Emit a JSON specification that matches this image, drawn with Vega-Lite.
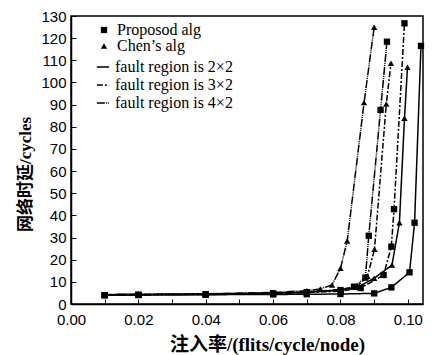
{
  "$schema": "https://vega.github.io/schema/vega-lite/v6.json",
  "width": 352,
  "height": 288,
  "autosize": "none",
  "padding": {"left": 71, "top": 16, "right": 10, "bottom": 51},
  "background": "white",
  "config": {
    "view": {"stroke": "black", "strokeWidth": 1.5},
    "axis": {
      "grid": false,
      "domainColor": "black",
      "domainWidth": 1.5,
      "tickColor": "black",
      "tickWidth": 1,
      "tickSize": -5,
      "labelFont": "Liberation Sans",
      "labelFontSize": 15,
      "labelColor": "black",
      "labelFlush": false,
      "titleColor": "black",
      "titleFont": "Liberation Serif, Noto Sans CJK SC",
      "titleFontWeight": "bold"
    }
  },
  "data": {
    "values": [
      {"x": 0.01, "y": 4.3, "alg": "Chen’s alg", "fault": "fault region is 4×2", "series": "A"},
      {"x": 0.02, "y": 4.4, "alg": "Chen’s alg", "fault": "fault region is 4×2", "series": "A"},
      {"x": 0.04, "y": 4.6, "alg": "Chen’s alg", "fault": "fault region is 4×2", "series": "A"},
      {"x": 0.06, "y": 5.2, "alg": "Chen’s alg", "fault": "fault region is 4×2", "series": "A"},
      {"x": 0.07, "y": 6.0, "alg": "Chen’s alg", "fault": "fault region is 4×2", "series": "A"},
      {"x": 0.074, "y": 6.8, "alg": "Chen’s alg", "fault": "fault region is 4×2", "series": "A"},
      {"x": 0.0775, "y": 8.6, "alg": "Chen’s alg", "fault": "fault region is 4×2", "series": "A"},
      {"x": 0.08, "y": 16.1, "alg": "Chen’s alg", "fault": "fault region is 4×2", "series": "A"},
      {"x": 0.082, "y": 28.4, "alg": "Chen’s alg", "fault": "fault region is 4×2", "series": "A"},
      {"x": 0.087, "y": 90.9, "alg": "Chen’s alg", "fault": "fault region is 4×2", "series": "A"},
      {"x": 0.09, "y": 124.9, "alg": "Chen’s alg", "fault": "fault region is 4×2", "series": "A"},

      {"x": 0.01, "y": 4.0, "alg": "Proposod alg", "fault": "fault region is 4×2", "series": "B"},
      {"x": 0.02, "y": 4.1, "alg": "Proposod alg", "fault": "fault region is 4×2", "series": "B"},
      {"x": 0.04, "y": 4.3, "alg": "Proposod alg", "fault": "fault region is 4×2", "series": "B"},
      {"x": 0.06, "y": 4.8, "alg": "Proposod alg", "fault": "fault region is 4×2", "series": "B"},
      {"x": 0.07, "y": 5.3, "alg": "Proposod alg", "fault": "fault region is 4×2", "series": "B"},
      {"x": 0.08, "y": 6.3, "alg": "Proposod alg", "fault": "fault region is 4×2", "series": "B"},
      {"x": 0.084, "y": 7.8, "alg": "Proposod alg", "fault": "fault region is 4×2", "series": "B"},
      {"x": 0.0874, "y": 11.9, "alg": "Proposod alg", "fault": "fault region is 4×2", "series": "B"},
      {"x": 0.0884, "y": 30.8, "alg": "Proposod alg", "fault": "fault region is 4×2", "series": "B"},
      {"x": 0.0919, "y": 87.6, "alg": "Proposod alg", "fault": "fault region is 4×2", "series": "B"},
      {"x": 0.0938, "y": 118.4, "alg": "Proposod alg", "fault": "fault region is 4×2", "series": "B"},

      {"x": 0.01, "y": 4.2, "alg": "Chen’s alg", "fault": "fault region is 3×2", "series": "C"},
      {"x": 0.02, "y": 4.3, "alg": "Chen’s alg", "fault": "fault region is 3×2", "series": "C"},
      {"x": 0.04, "y": 4.5, "alg": "Chen’s alg", "fault": "fault region is 3×2", "series": "C"},
      {"x": 0.06, "y": 5.0, "alg": "Chen’s alg", "fault": "fault region is 3×2", "series": "C"},
      {"x": 0.07, "y": 5.5, "alg": "Chen’s alg", "fault": "fault region is 3×2", "series": "C"},
      {"x": 0.08, "y": 6.5, "alg": "Chen’s alg", "fault": "fault region is 3×2", "series": "C"},
      {"x": 0.085, "y": 8.0, "alg": "Chen’s alg", "fault": "fault region is 3×2", "series": "C"},
      {"x": 0.088, "y": 12.5, "alg": "Chen’s alg", "fault": "fault region is 3×2", "series": "C"},
      {"x": 0.0901, "y": 24.7, "alg": "Chen’s alg", "fault": "fault region is 3×2", "series": "C"},
      {"x": 0.0936, "y": 90.3, "alg": "Chen’s alg", "fault": "fault region is 3×2", "series": "C"},
      {"x": 0.095, "y": 108.7, "alg": "Chen’s alg", "fault": "fault region is 3×2", "series": "C"},

      {"x": 0.01, "y": 4.0, "alg": "Proposod alg", "fault": "fault region is 3×2", "series": "D"},
      {"x": 0.02, "y": 4.1, "alg": "Proposod alg", "fault": "fault region is 3×2", "series": "D"},
      {"x": 0.04, "y": 4.3, "alg": "Proposod alg", "fault": "fault region is 3×2", "series": "D"},
      {"x": 0.06, "y": 4.7, "alg": "Proposod alg", "fault": "fault region is 3×2", "series": "D"},
      {"x": 0.07, "y": 5.1, "alg": "Proposod alg", "fault": "fault region is 3×2", "series": "D"},
      {"x": 0.08, "y": 5.8, "alg": "Proposod alg", "fault": "fault region is 3×2", "series": "D"},
      {"x": 0.086, "y": 7.2, "alg": "Proposod alg", "fault": "fault region is 3×2", "series": "D"},
      {"x": 0.0928, "y": 13.1, "alg": "Proposod alg", "fault": "fault region is 3×2", "series": "D"},
      {"x": 0.0951, "y": 25.9, "alg": "Proposod alg", "fault": "fault region is 3×2", "series": "D"},
      {"x": 0.0959, "y": 42.8, "alg": "Proposod alg", "fault": "fault region is 3×2", "series": "D"},
      {"x": 0.099, "y": 126.7, "alg": "Proposod alg", "fault": "fault region is 3×2", "series": "D"},

      {"x": 0.01, "y": 4.2, "alg": "Chen’s alg", "fault": "fault region is 2×2", "series": "E"},
      {"x": 0.02, "y": 4.3, "alg": "Chen’s alg", "fault": "fault region is 2×2", "series": "E"},
      {"x": 0.04, "y": 4.5, "alg": "Chen’s alg", "fault": "fault region is 2×2", "series": "E"},
      {"x": 0.06, "y": 4.9, "alg": "Chen’s alg", "fault": "fault region is 2×2", "series": "E"},
      {"x": 0.07, "y": 5.3, "alg": "Chen’s alg", "fault": "fault region is 2×2", "series": "E"},
      {"x": 0.08, "y": 6.3, "alg": "Chen’s alg", "fault": "fault region is 2×2", "series": "E"},
      {"x": 0.085, "y": 7.5, "alg": "Chen’s alg", "fault": "fault region is 2×2", "series": "E"},
      {"x": 0.09, "y": 11.6, "alg": "Chen’s alg", "fault": "fault region is 2×2", "series": "E"},
      {"x": 0.0953, "y": 17.6, "alg": "Chen’s alg", "fault": "fault region is 2×2", "series": "E"},
      {"x": 0.0975, "y": 36.7, "alg": "Chen’s alg", "fault": "fault region is 2×2", "series": "E"},
      {"x": 0.099, "y": 83.8, "alg": "Chen’s alg", "fault": "fault region is 2×2", "series": "E"},
      {"x": 0.0999, "y": 106.9, "alg": "Chen’s alg", "fault": "fault region is 2×2", "series": "E"},

      {"x": 0.01, "y": 4.0, "alg": "Proposod alg", "fault": "fault region is 2×2", "series": "F"},
      {"x": 0.02, "y": 4.1, "alg": "Proposod alg", "fault": "fault region is 2×2", "series": "F"},
      {"x": 0.04, "y": 4.2, "alg": "Proposod alg", "fault": "fault region is 2×2", "series": "F"},
      {"x": 0.06, "y": 4.3, "alg": "Proposod alg", "fault": "fault region is 2×2", "series": "F"},
      {"x": 0.07, "y": 4.4, "alg": "Proposod alg", "fault": "fault region is 2×2", "series": "F"},
      {"x": 0.08, "y": 4.5, "alg": "Proposod alg", "fault": "fault region is 2×2", "series": "F"},
      {"x": 0.09, "y": 4.8, "alg": "Proposod alg", "fault": "fault region is 2×2", "series": "F"},
      {"x": 0.0951, "y": 7.5, "alg": "Proposod alg", "fault": "fault region is 2×2", "series": "F"},
      {"x": 0.1005, "y": 14.3, "alg": "Proposod alg", "fault": "fault region is 2×2", "series": "F"},
      {"x": 0.102, "y": 36.7, "alg": "Proposod alg", "fault": "fault region is 2×2", "series": "F"},
      {"x": 0.1039, "y": 116.5, "alg": "Proposod alg", "fault": "fault region is 2×2", "series": "F"}
    ]
  },
  "encoding": {
    "x": {
      "field": "x",
      "type": "quantitative",
      "scale": {"domain": [0, 0.1045], "nice": false},
      "axis": {
        "values": [0, 0.01, 0.02, 0.03, 0.04, 0.05, 0.06, 0.07, 0.08, 0.09, 0.1],
        "labelExpr": "round(datum.value * 100) % 2 == 0 ? format(datum.value, '.2f') : ''",
        "labelPadding": 13,
        "title": "注入率/(flits/cycle/node)",
        "titleFontSize": 19,
        "titleX": 196,
        "titleY": 40,
        "titleBaseline": "middle"
      }
    },
    "y": {
      "field": "y",
      "type": "quantitative",
      "scale": {"domain": [0, 130], "nice": false},
      "axis": {
        "values": [0, 10, 20, 30, 40, 50, 60, 70, 80, 90, 100, 110, 120, 130],
        "labelPadding": 10,
        "title": "网络时延/cycles",
        "titleFontSize": 17,
        "titleX": -46,
        "titleY": 158,
        "titleBaseline": "middle"
      }
    }
  },
  "layer": [
    {
      "mark": {"type": "line", "strokeWidth": 1.5, "color": "black"},
      "encoding": {
        "detail": {"field": "series"},
        "strokeDash": {
          "field": "fault",
          "type": "nominal",
          "scale": {
            "domain": ["fault region is 2×2", "fault region is 3×2", "fault region is 4×2"],
            "range": [[1, 0], [6, 2, 2, 2], [8, 1, 1, 1, 1, 1]]
          },
          "legend": {
            "title": null,
            "orient": "none",
            "legendX": 24,
            "legendY": 43,
            "padding": 0,
            "symbolType": "stroke",
            "symbolSize": 150,
            "symbolStrokeColor": "black",
            "symbolStrokeWidth": 1.5,
            "labelFont": "Liberation Serif",
            "labelFontSize": 16,
            "labelColor": "black",
            "labelOffset": 4,
            "clipHeight": 16,
            "rowPadding": 2
          }
        }
      }
    },
    {
      "mark": {"type": "point", "filled": true, "color": "black", "opacity": 1, "size": 40},
      "encoding": {
        "shape": {
          "field": "alg",
          "type": "nominal",
          "scale": {"domain": ["Proposod alg", "Chen’s alg"], "range": ["square", "triangle-up"]},
          "legend": {
            "title": null,
            "orient": "none",
            "legendX": 25,
            "legendY": 6,
            "padding": 0,
            "symbolSize": 40,
            "symbolFillColor": "black",
            "symbolStrokeColor": "black",
            "labelFont": "Liberation Serif",
            "labelFontSize": 16,
            "labelColor": "black",
            "labelOffset": 5,
            "clipHeight": 16,
            "rowPadding": -5
          }
        }
      }
    }
  ]
}
